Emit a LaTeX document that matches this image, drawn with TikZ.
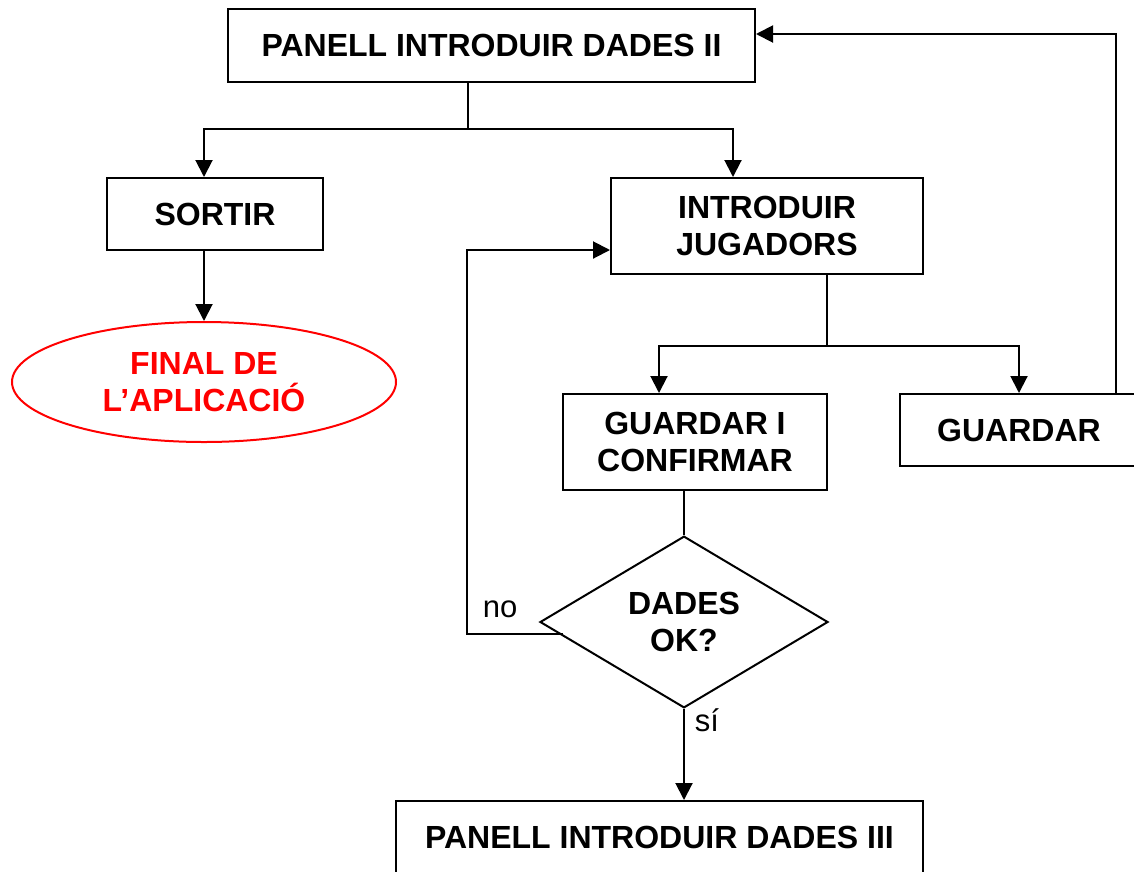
\documentclass[tikz,border=0pt]{standalone}
\usepackage{fontspec}
\setmainfont{Liberation Sans}
\usetikzlibrary{arrows.meta,shapes.geometric}
\begin{document}
\begin{tikzpicture}[x=1pt,y=-1pt,
  every node/.style={font=\fontsize{32}{37}\selectfont\bfseries, align=center, inner sep=0pt},
  box/.style={draw, line width=2pt, rectangle},
  arr/.style={-{Triangle[width=17pt,length=17pt]}},
  conn/.style={line width=2pt},
  lbl/.style={font=\fontsize{31}{37}\selectfont}]
  \useasboundingbox (0,0) rectangle (1134,871);
  \clip (0,0) rectangle (1134,871);

  % process boxes
  \node[box, minimum width=527pt, minimum height=73pt] (top) at (491.5,45.5) {PANELL INTRODUIR DADES II};
  \node[box, minimum width=216pt, minimum height=72pt] (sortir) at (215,214) {SORTIR};
  \node[draw=red, line width=2pt, ellipse, minimum width=384pt, minimum height=120pt, text=red] (fin) at (204,382) {FINAL DE\\L’APLICACIÓ};
  \node[box, minimum width=312pt, minimum height=96pt] (intro) at (767,226) {INTRODUIR\\JUGADORS};
  \node[box, minimum width=264pt, minimum height=96pt] (gic) at (695,442) {GUARDAR I\\CONFIRMAR};
  \node[box, minimum width=238pt, minimum height=72pt] (guardar) at (1019,430) {GUARDAR};
  \node[draw, line width=2pt, diamond, minimum width=288pt, minimum height=166pt] (dia) at (684,622) {DADES\\OK?};
  \node[box, minimum width=527pt, minimum height=73pt] (bottom) at (659.5,837.5) {PANELL INTRODUIR DADES III};

  % branch points
  \coordinate (s1) at (468,129);
  \coordinate (xi) at (733,0);
  \coordinate (s2) at (827,346);
  \coordinate (xg) at (659,0);
  \coordinate (back) at (1116,34);
  \coordinate (nostart) at (563,634);
  \coordinate (noturn) at (467,634);
  \coordinate (noend) at (0,250);

  % connectors
  \draw[conn] (top.south -| s1) -- (s1);
  \draw[conn, arr] (s1) -| (sortir.north -| fin.north);
  \draw[conn, arr] (s1) -| (intro.north -| xi);
  \draw[conn, arr] (sortir.south -| fin.north) -- (fin.north);
  \draw[conn] (intro.south -| s2) -- (s2);
  \draw[conn, arr] (s2) -| (gic.north -| xg);
  \draw[conn, arr] (s2) -| (guardar.north);
  \draw[conn, arr] (guardar.north -| back) |- (top.east |- back);
  \draw[conn] (gic.south -| dia.north) -- (dia.north);
  \draw[conn, arr] (nostart) -- (noturn) |- (intro.west |- noend);
  \draw[conn, arr] (dia.south) -- (bottom.north -| dia.south);

  % branch labels
  \node[lbl] (nolbl) at (500,609) {no};
  \node[lbl] (silbl) at (707,720) {sí};
\end{tikzpicture}
\end{document}
